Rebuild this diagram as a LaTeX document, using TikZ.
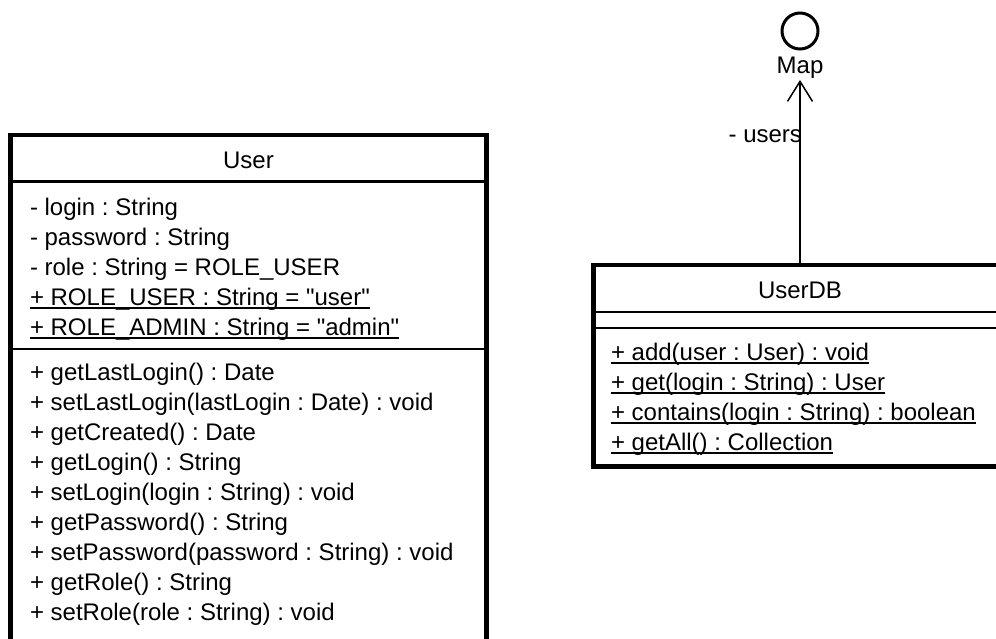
\documentclass[tikz,border=0pt]{standalone}
\usepackage{fontspec}
\setmainfont{Liberation Sans}
\usetikzlibrary{arrows.meta}

% underline used for static members
\newcommand{\classstatic}[1]{\setbox0\hbox{#1}\rlap{\rule[-4pt]{\wd0}{2pt}}\box0}
\newcommand{\qstr}[1]{\textquotedbl#1\textquotedbl}

\begin{document}
\frenchspacing
\begin{tikzpicture}[x=1pt,y=-1pt]
\tikzstyle{every node}=[font=\fontsize{24}{30}\selectfont,inner sep=0pt,outer sep=0pt];
\tikzstyle{classbox}=[draw,rectangle,line width=4.5pt,anchor=north west];
\tikzstyle{compsep}=[line width=2.5pt];
\tikzstyle{member}=[anchor=base west];
\tikzstyle{assoc}=[line width=2.5pt,shorten >=2pt,-{Straight Barb[length=20pt,width=25pt,line width=1.5pt]}];

\useasboundingbox (0,0) rectangle (996,638);
\clip (0,0) rectangle (996,638);

% class User
\node[classbox,minimum width=476pt,minimum height=600pt] (user) at (10.5,135) {};
\node (usertitle) at (248.5,160) {User};
\draw[compsep] ([yshift=-46.5pt]user.north west) -- ([yshift=-46.5pt]user.north east);
\draw[compsep] ([yshift=-214pt]user.north west) -- ([yshift=-214pt]user.north east);
\foreach \m [count=\i] in {- login : String,
                           - password : String,
                           - role : String = ROLE\_USER,
                           {\classstatic{+ ROLE\_USER : String = \qstr{user}}},
                           {\classstatic{+ ROLE\_ADMIN : String = \qstr{admin}}}}
  \node[member] (uattr\i) at (30,185+30*\i) {\m};
\foreach \m [count=\i] in {+ getLastLogin() : Date,
                           + setLastLogin(lastLogin : Date) : void,
                           + getCreated() : Date,
                           + getLogin() : String,
                           + setLogin(login : String) : void,
                           + getPassword() : String,
                           + setPassword(password : String) : void,
                           + getRole() : String,
                           + setRole(role : String) : void}
  \node[member] (uop\i) at (30,350+30*\i) {\m};

% class UserDB
\node[classbox,minimum width=413pt,minimum height=201.5pt] (userdb) at (593.5,265) {};
\node (userdbtitle) at (800,290) {UserDB};
\draw[compsep] ([yshift=-47pt]userdb.north west) -- ([yshift=-47pt]userdb.north east);
\draw[compsep] ([yshift=-63pt]userdb.north west) -- ([yshift=-63pt]userdb.north east);
\foreach \m [count=\i] in {+ add(user : User) : void,
                           + get(login : String) : User,
                           + contains(login : String) : boolean,
                           + getAll() : Collection}
  \node[member] (dbop\i) at (611,330+30*\i) {\classstatic{\m}};

% interface Map
\node[draw,circle,line width=3pt,minimum size=36pt] (map) at (800,31) {};
\node[anchor=base] (maplabel) at (800,73) {Map};

\draw[assoc] (userdb.north) -- (maplabel.south)
  node[pos=0.69,anchor=east,xshift=2pt] (users) {- users};
\end{tikzpicture}
\end{document}
